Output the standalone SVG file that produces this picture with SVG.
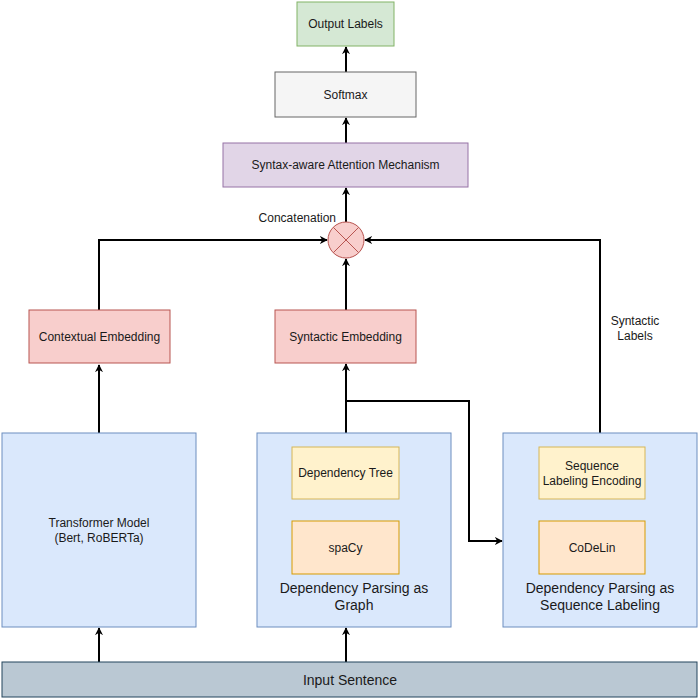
<svg xmlns="http://www.w3.org/2000/svg" width="700" height="700" viewBox="0 0 700 700">
<defs>
<style>
text{font-family:"Liberation Sans",Arial,Helvetica,sans-serif;fill:#1a1a1a;text-anchor:middle;dominant-baseline:central}
.s{font-size:12px}
.m{font-size:14px}
.e{stroke:#000;stroke-width:2;fill:none;marker-end:url(#ah)}
.g{fill:#d5e8d4;stroke:#82b366}
.gr{fill:#f5f5f5;stroke:#666666}
.p{fill:#e1d5e7;stroke:#9673a6}
.r{fill:#f8cecc;stroke:#b85450}
.b{fill:#dae8fc;stroke:#6c8ebf}
.y{fill:#fff2cc;stroke:#d6b656}
.o{fill:#ffe6cc;stroke:#d79b00}
.in{fill:#bac8d3;stroke:#23445d}
</style>
<marker id="ah" viewBox="0 0 10 10" refX="9" refY="5" markerWidth="8" markerHeight="8" orient="auto" markerUnits="userSpaceOnUse">
<path d="M0,0 L10,5 L0,10 L3,5 Z" fill="#000"/>
</marker>
</defs>
<rect width="700" height="700" fill="#fff"/>
<g id="connectors">
<path class="e" d="M99,662 V628"/>
<path class="e" d="M346,662 V628"/>
<path class="e" d="M99,433 V365"/>
<path class="e" d="M346,433 V364"/>
<path class="e" d="M346,401 H469 V541 H502"/>
<path class="e" d="M346,521 V500"/>
<path class="e" d="M592,521 V500"/>
<path class="e" d="M99,310 V240 H327"/>
<path class="e" d="M346,310 V259"/>
<path class="e" d="M600,433 V240 H365"/>
<path class="e" d="M346,222 V188"/>
<path class="e" d="M346,143 V118"/>
<path class="e" d="M346,72 V47"/>
</g>
<g id="output"><rect class="g" x="297" y="2" width="97" height="44"/><text class="s" x="345.5" y="24">Output Labels</text></g>
<g id="softmax"><rect class="gr" x="275" y="72" width="141" height="45"/><text class="s" x="345.5" y="95">Softmax</text></g>
<g id="attention"><rect class="p" x="223" y="143" width="245" height="44"/><text class="s" x="345.5" y="165">Syntax-aware Attention Mechanism</text></g>
<g id="concat">
<circle class="r" cx="346" cy="240" r="18"/>
<path d="M333.3,227.3 L358.7,252.7 M358.7,227.3 L333.3,252.7" stroke="#b85450" fill="none"/>
<text class="s" x="336" y="218" style="text-anchor:end">Concatenation</text>
</g>
<g id="synlabels"><text class="s" x="635" y="321">Syntactic</text><text class="s" x="635" y="336">Labels</text></g>
<g id="contextual"><rect class="r" x="29" y="310" width="141" height="53"/><text class="s" x="99.5" y="337">Contextual Embedding</text></g>
<g id="syntactic"><rect class="r" x="275" y="310" width="141" height="53"/><text class="s" x="345.5" y="337">Syntactic Embedding</text></g>
<g id="transformer"><rect class="b" x="2" y="433" width="194" height="194"/><text class="s" x="99" y="523">Transformer Model</text><text class="s" x="99" y="538">(Bert, RoBERTa)</text></g>
<g id="graph"><rect class="b" x="257" y="433" width="194" height="194"/><text class="m" x="354" y="588">Dependency Parsing as</text><text class="m" x="354" y="605">Graph</text></g>
<g id="deptree"><rect class="y" x="292" y="447" width="107" height="52"/><text class="s" x="345.5" y="473">Dependency Tree</text></g>
<g id="spacy"><rect class="o" x="292" y="521" width="107" height="53"/><text class="s" x="345.5" y="548">spaCy</text></g>
<g id="seqlab"><rect class="b" x="503" y="433" width="194" height="194"/><text class="m" x="600" y="588">Dependency Parsing as</text><text class="m" x="600" y="605">Sequence Labeling</text></g>
<g id="seqenc"><rect class="y" x="539" y="447" width="106" height="52"/><text class="s" x="592" y="466">Sequence</text><text class="s" x="592" y="481">Labeling Encoding</text></g>
<g id="codelin"><rect class="o" x="539" y="521" width="106" height="53"/><text class="s" x="592" y="548">CoDeLin</text></g>
<g id="input"><rect class="in" x="2" y="662" width="695" height="35"/><text class="m" x="350" y="680">Input Sentence</text></g>
</svg>
